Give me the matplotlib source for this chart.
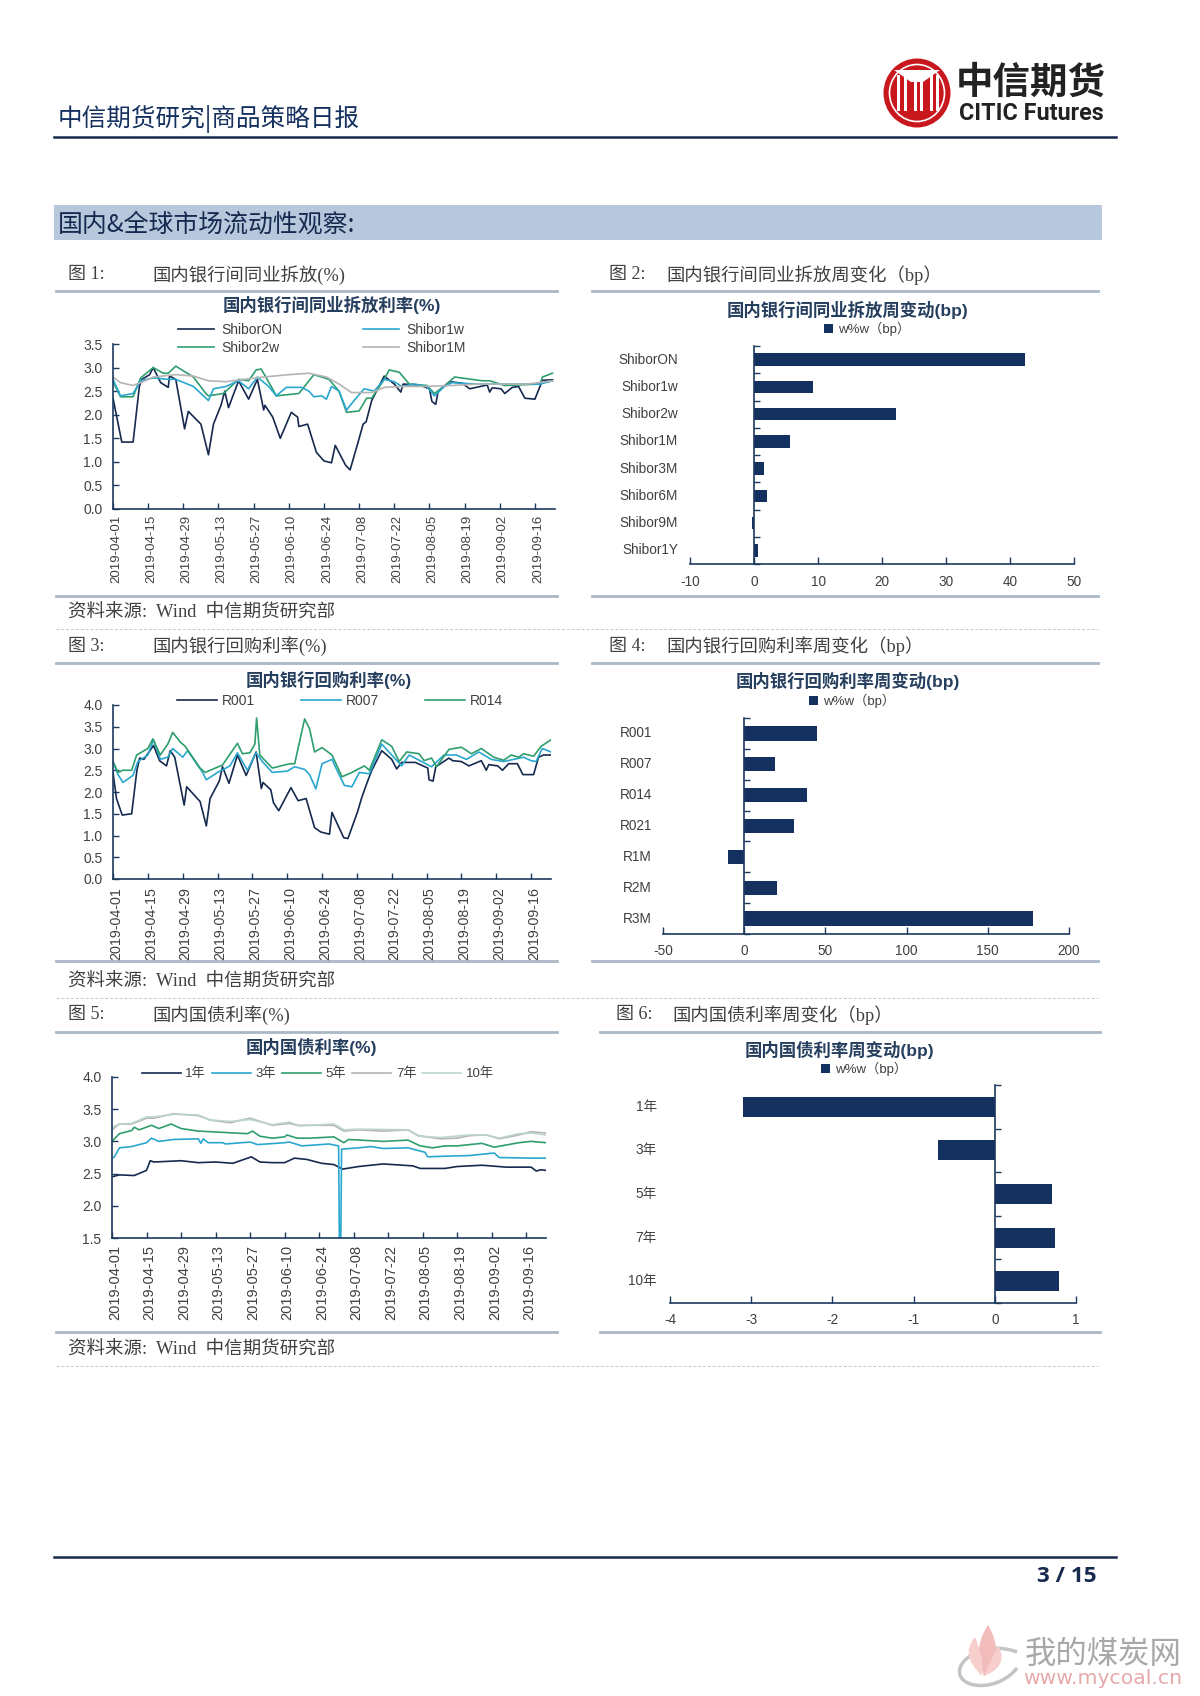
import numpy as np
import matplotlib
matplotlib.use('Agg')
import matplotlib.pyplot as plt
from matplotlib.patches import Ellipse, Rectangle, Polygon, PathPatch
from matplotlib.path import Path
from matplotlib.transforms import blended_transform_factory, ScaledTranslation

plt.rcParams['font.family'] = ['Liberation Sans', 'Noto Sans CJK SC', 'DejaVu Sans']

W, H = 1200, 1696

date_labels = ['2019-04-01', '2019-04-15', '2019-04-29', '2019-05-13', '2019-05-27', '2019-06-10', '2019-06-24',
               '2019-07-08', '2019-07-22', '2019-08-05', '2019-08-19', '2019-09-02', '2019-09-16']

# 图1 shibor, x = days after 2019-04-01
on_d = [0, 3.5, 8, 10.5, 11.5, 14.6, 16, 19, 22, 22.5, 25, 28.5, 30, 35, 38, 40, 43, 44.5, 46, 50, 54, 57.5, 60, 60.5, 63.6, 66.6, 71, 73.5, 74, 77.5, 81, 84, 87, 88.5, 92.6, 94.4, 97.5, 99.6, 100.8, 103, 108, 112, 114.6, 115.5, 122, 126, 127, 128.5, 129.5, 134, 139, 142, 149, 150, 151, 154.5, 156, 159, 161.5, 164, 168, 171, 175]
on_v = [2.35, 1.42, 1.42, 2.6, 2.75, 2.85, 3.0, 2.68, 2.58, 2.82, 2.75, 1.7, 2.07, 1.8, 1.15, 1.8, 2.2, 2.5, 2.15, 2.72, 2.33, 2.75, 2.1, 2.2, 1.95, 1.5, 2.05, 1.95, 1.75, 1.8, 1.2, 1.02, 0.98, 1.35, 0.93, 0.83, 1.4, 1.8, 1.85, 2.3, 2.82, 2.65, 2.48, 2.65, 2.63, 2.55, 2.28, 2.22, 2.5, 2.7, 2.67, 2.55, 2.63, 2.48, 2.57, 2.55, 2.45, 2.58, 2.6, 2.35, 2.33, 2.73, 2.74]
w1_d = [0, 3, 8, 11, 16, 22, 25, 32, 38, 40, 45, 50, 54, 57.5, 62, 65, 69, 75, 78, 80, 83, 85, 87, 90, 93, 96, 100, 104, 108, 112, 115, 120, 125, 128, 132, 135, 145, 170, 175]
w1_v = [2.75, 2.4, 2.45, 2.72, 2.78, 2.75, 2.75, 2.6, 2.3, 2.55, 2.6, 2.72, 2.55, 2.8, 2.6, 2.4, 2.58, 2.58, 2.5, 2.38, 2.4, 2.33, 2.6, 2.5, 2.1, 2.3, 2.55, 2.5, 2.75, 2.7, 2.6, 2.65, 2.6, 2.4, 2.6, 2.68, 2.65, 2.65, 2.72]
w2_d = [0, 3, 8, 11, 16, 20, 22, 25, 32, 37, 38, 44, 50, 54, 57, 59, 63, 65, 74, 80, 86, 90, 93, 98, 101, 103, 108, 110, 114, 118, 125, 128, 133, 136, 147, 150, 156, 170, 171, 175]
w2_v = [2.7, 2.38, 2.38, 2.78, 3.0, 2.88, 2.88, 3.03, 2.8, 2.45, 2.4, 2.45, 2.75, 2.72, 2.95, 2.97, 2.6, 2.4, 2.45, 2.85, 2.75, 2.5, 2.05, 2.08, 2.35, 2.35, 2.75, 2.95, 2.9, 2.65, 2.62, 2.45, 2.65, 2.8, 2.72, 2.72, 2.62, 2.65, 2.8, 2.88]
m1_d = [0, 3, 8, 12, 16, 25, 32, 38, 45, 52, 60, 70, 78, 85, 90, 95, 103, 108, 115, 125, 135, 145, 165, 175]
m1_v = [2.8, 2.68, 2.62, 2.7, 2.8, 2.85, 2.82, 2.72, 2.7, 2.75, 2.8, 2.85, 2.88, 2.8, 2.65, 2.47, 2.47, 2.58, 2.6, 2.6, 2.62, 2.65, 2.65, 2.72]

# 图3 repo
r001_d = [0, 1.4, 3.7, 7.5, 9.6, 10.7, 12.4, 16.3, 18.7, 21.5, 23, 24.8, 28.6, 29.6, 35, 37.5, 39, 42.7, 44, 46.6, 50, 53.5, 57.5, 59.6, 60.3, 63.4, 64.5, 66.6, 71.5, 74.4, 77.6, 81, 83.5, 87, 88, 92.7, 94.4, 98.3, 100, 102, 104, 108, 112, 114, 116, 121.5, 126.5, 127, 128.6, 129.7, 135, 136.5, 140, 143, 148, 150, 151, 154.6, 156.5, 159, 162.5, 164.7, 169, 171, 173, 175.8]
r001_v = [2.45, 1.85, 1.47, 1.5, 2.5, 2.78, 2.75, 3.07, 2.72, 2.6, 2.95, 2.8, 1.7, 2.12, 1.78, 1.22, 1.85, 2.25, 2.58, 2.2, 2.85, 2.38, 2.92, 2.08, 2.22, 2.05, 1.75, 1.57, 2.1, 1.8, 1.85, 1.18, 1.08, 1.03, 1.53, 0.95, 0.93, 1.55, 1.88, 2.2, 2.5, 2.95, 2.75, 2.53, 2.68, 2.68, 2.55, 2.28, 2.25, 2.58, 2.78, 2.72, 2.7, 2.6, 2.72, 2.5, 2.63, 2.6, 2.5, 2.65, 2.65, 2.4, 2.4, 2.8, 2.85, 2.85]
r007_d = [0, 2, 4, 8, 10, 14, 16.3, 19, 22, 24, 28, 30, 36, 37.5, 42, 47, 50, 54, 57.5, 60, 64, 70, 73, 77, 79, 81.5, 84, 88, 90, 93, 96, 99, 103, 108, 112, 116, 119, 124, 128, 133, 138, 142, 147, 152, 157, 165, 168, 170, 172.5, 176]
r007_v = [2.7, 2.4, 2.22, 2.38, 2.7, 2.85, 3.2, 2.75, 2.8, 3.0, 2.8, 2.95, 2.45, 2.28, 2.45, 2.6, 2.9, 2.5, 2.9, 2.7, 2.45, 2.48, 2.58, 2.52, 2.4, 2.07, 2.65, 2.75, 2.5, 2.15, 2.12, 2.45, 2.42, 3.1, 2.85, 2.6, 2.85, 2.7, 2.58, 2.85, 2.85, 2.75, 2.92, 2.75, 2.7, 2.8, 2.72, 2.7, 3.0, 2.92]
r014_d = [0, 2, 4, 7.5, 9.5, 14, 16, 19, 22, 24, 27, 29, 35, 37, 44, 50, 52, 55, 57, 57.7, 59, 64, 71, 73, 77, 79, 81, 84, 88, 92, 96, 101, 103, 108, 112, 115, 118, 123, 125, 128, 130, 135, 140, 144, 148, 153, 157, 160, 163, 165, 169, 172, 176]
r014_v = [2.7, 2.45, 2.5, 2.5, 2.85, 3.0, 3.22, 2.85, 3.1, 3.37, 3.15, 3.05, 2.55, 2.45, 2.62, 3.12, 2.88, 2.9, 3.1, 3.7, 2.85, 2.55, 2.65, 2.65, 3.68, 3.45, 2.92, 3.02, 2.85, 2.35, 2.45, 2.6, 2.5, 3.2, 3.05, 2.7, 2.92, 2.88, 2.72, 2.78, 2.58, 2.98, 3.03, 2.88, 3.0, 2.8, 2.73, 2.85, 2.8, 2.88, 2.82, 3.05, 3.2]

# 图5 treasury
y1_d = [0, 3, 9, 14, 15.5, 17, 28, 35, 42, 49, 56.5, 60, 65, 70, 74, 79, 85, 90, 93.5, 100, 110, 122, 125, 135, 140, 150, 160, 170, 172, 174, 176]
y1_v = [2.45, 2.48, 2.47, 2.55, 2.7, 2.68, 2.7, 2.67, 2.68, 2.66, 2.76, 2.68, 2.67, 2.67, 2.74, 2.72, 2.66, 2.64, 2.57, 2.61, 2.65, 2.62, 2.58, 2.58, 2.61, 2.63, 2.6, 2.6, 2.54, 2.56, 2.55]
y3_d = [0, 1, 3, 8, 14, 16, 19, 25, 35, 36, 37, 39, 45, 46, 56, 59, 70, 72, 77, 88, 91.9, 92.2, 92.8, 93.1, 100, 105, 110, 120, 125, 127, 128, 135, 145, 155, 157, 170, 176]
y3_v = [2.74, 2.76, 2.9, 2.92, 2.98, 3.05, 3.0, 3.03, 3.04, 2.97, 3.04, 2.98, 2.98, 2.96, 2.99, 2.95, 2.98, 2.99, 2.93, 2.96, 2.93, 1.5, 1.5, 2.88, 2.9, 2.92, 2.89, 2.9, 2.85, 2.83, 2.76, 2.77, 2.78, 2.82, 2.75, 2.74, 2.74]
y5_d = [0, 3, 8, 9, 11, 16, 19, 24, 28, 35, 45, 55, 57, 60, 65, 70, 71, 75, 80, 90, 94, 96, 110, 120, 125, 130, 135, 140, 150, 155, 165, 170, 176]
y5_v = [3.0, 3.12, 3.17, 3.22, 3.18, 3.25, 3.2, 3.27, 3.2, 3.16, 3.14, 3.12, 3.16, 3.08, 3.05, 3.07, 3.1, 3.05, 3.05, 3.07, 2.98, 3.03, 3.0, 3.02, 2.93, 2.9, 2.93, 2.93, 2.97, 2.91, 2.98, 3.0, 2.98]
y7_d = [0, 3, 8, 14, 17, 25, 35, 40, 48, 56, 65, 72, 75, 85, 90, 94, 100, 110, 120, 124, 133, 140, 145, 152, 157, 165, 170, 176]
y7_v = [3.18, 3.27, 3.27, 3.36, 3.36, 3.43, 3.4, 3.33, 3.29, 3.36, 3.25, 3.28, 3.25, 3.25, 3.25, 3.16, 3.18, 3.16, 3.18, 3.09, 3.04, 3.05, 3.09, 3.1, 3.04, 3.1, 3.15, 3.13]
y10_d = [0, 3, 8, 14, 17, 25, 35, 40, 48, 56, 65, 72, 76, 90, 94, 100, 120, 125, 133, 145, 152, 157, 165, 170, 176]
y10_v = [3.22, 3.27, 3.28, 3.38, 3.38, 3.42, 3.41, 3.33, 3.31, 3.34, 3.26, 3.3, 3.24, 3.27, 3.18, 3.19, 3.18, 3.08, 3.06, 3.1, 3.1, 3.05, 3.12, 3.13, 3.1]

# bar charts
shibor_names = ['ShiborON', 'Shibor1w', 'Shibor2w', 'Shibor1M', 'Shibor3M', 'Shibor6M', 'Shibor9M', 'Shibor1Y']
shibor_chg = [42.3, 9.2, 22.2, 5.7, 1.6, 2.1, -0.3, 0.7]
repo_names = ['R001', 'R007', 'R014', 'R021', 'R1M', 'R2M', 'R3M']
repo_chg = [45, 19, 38.5, 30.5, -10, 20, 178]
bond_names = ['1年', '3年', '5年', '7年', '10年']
bond_chg = [-3.1, -0.7, 0.71, 0.74, 0.79]

NAVY = '#14305f'
DARK = '#16294f'
CYAN = '#2aa7cf'
GREEN = '#2f9e6e'
GRAY = '#b4b4b4'
PALE = '#bcd6cc'
AXC = '#1d3a5c'
TXT = '#404040'
RULE = '#a9b8c4'
SERIF = ['Liberation Serif', 'Noto Sans CJK SC']

fig = plt.figure(figsize=(W / 100, H / 100), dpi=100, facecolor='white')

# page layer in pixels
pg = fig.add_axes([0, 0, 1, 1])
pg.set_xlim(0, W)
pg.set_ylim(H, 0)
pg.axis('off')


def make_ax(x0, x1, ytop, ybot):
    ax = fig.add_axes([x0 / W, 1 - ybot / H, (x1 - x0) / W, (ybot - ytop) / H])
    ax.patch.set_alpha(0)
    for s in ['top', 'right']:
        ax.spines[s].set_visible(False)
    for s in ['left', 'bottom']:
        ax.spines[s].set_color(AXC)
        ax.spines[s].set_linewidth(1.2)
    return ax


def line_chart(rect, series, ylim, yticks, leg, date_fs, date_pad):
    ax = make_ax(*rect)
    for d, v, c, name in series:
        ax.plot(d, v, color=c, lw=1.2, label=name, solid_joinstyle='round')
    ax.set_xlim(0, 176)
    ax.set_ylim(*ylim)
    ax.set_xticks(np.arange(len(date_labels)) * 14)
    ax.set_xticklabels(date_labels, rotation=90, fontsize=date_fs, color=TXT)
    ax.set_yticks(yticks)
    ax.set_yticklabels(['%.1f' % t for t in yticks], fontsize=10, color=TXT)
    ax.tick_params(axis='both', direction='in', length=4, width=1, color=AXC)
    ax.tick_params(axis='x', pad=date_pad)
    ax.tick_params(axis='y', pad=7.5)
    # date labels sit a little right of their ticks, has to come after tick_params
    nudge = ScaledTranslation(3 / 100, 0, fig.dpi_scale_trans)
    for lab in ax.get_xticklabels():
        lab.set_transform(lab.get_transform() + nudge)
    ax.legend(loc='center', bbox_to_anchor=(leg['x'] / W, 1 - leg['y'] / H), bbox_transform=fig.transFigure,
              ncol=leg['ncol'], frameon=False, fontsize=leg['fs'], labelcolor=TXT, handlelength=leg['hl'],
              handletextpad=leg['pad'], columnspacing=leg['gap'], labelspacing=0.3, borderpad=0)
    return ax


def bar_chart(rect, names, vals, xlim, xticks, lab_x, leg_pos, pad, bw=0.46):
    ax = make_ax(*rect)
    pos = np.arange(len(names)) + 0.5
    ax.barh(pos, vals, height=bw, color=NAVY, label='w%w（bp）')
    ax.set_xlim(*xlim)
    ax.set_ylim(len(names), 0)
    ax.spines['left'].set_position(('data', 0))
    ax.set_xticks(xticks)
    ax.set_xticklabels([str(t) for t in xticks], fontsize=9.8, color=TXT)
    ax.set_yticks(np.arange(len(names) + 1))
    ax.set_yticklabels([])
    ax.tick_params(axis='x', direction='in', length=5, width=1, color=AXC, pad=pad)
    ax.tick_params(axis='y', direction='in', length=4, width=1, color=AXC)
    tr = blended_transform_factory(fig.transFigure, ax.transData)
    for p, n in zip(pos, names):
        ax.text(lab_x / W, p, n, transform=tr, ha='right', va='center', fontsize=9.8, color=TXT)
    ax.legend(loc='center', bbox_to_anchor=(leg_pos[0] / W, 1 - leg_pos[1] / H), bbox_transform=fig.transFigure,
              frameon=False, fontsize=9.5, labelcolor=TXT, handlelength=0.7, handleheight=0.7, handletextpad=0.4,
              borderpad=0)
    return ax


# header
pg.text(58, 119, '中信期货研究|商品策略日报', fontsize=17.7, fontweight='medium', color=NAVY, va='center',
        family='Noto Sans CJK SC')
pg.plot([54, 1116], [137, 137], color=DARK, lw=1.8)
pg.add_patch(Rectangle((54, 205), 1048, 35, fc='#b7c8dd', ec='none'))
pg.text(58, 225, '国内&全球市场流动性观察:', fontsize=17.9, fontweight='medium', color=DARK, va='center',
        family='Noto Sans CJK SC')

# logo
cx, cy = 917, 93
pg.add_patch(Ellipse((cx, cy), 67, 69, fc='#c9171e', ec='none'))
pg.add_patch(Ellipse((cx, cy), 55, 57, fc='none', ec='white', lw=1.2))
for off in [-20, -13, -3, 3, 13, 19]:
    pg.add_patch(Rectangle((cx + off, cy - 18), 2.6, 36, fc='white', ec='none'))
pg.add_patch(Polygon([[cx - 23, cy - 23], [cx + 23, cy - 23], [cx + 6, cy - 11], [cx - 6, cy - 11]], fc='white', ec='none'))
pg.text(1031, 82, '中信期货', fontsize=27, fontweight='bold', color='#222222', ha='center', va='center',
        family='Noto Sans CJK SC')
pg.text(1031, 113, 'CITIC Futures', fontsize=16.8, fontweight='bold', color='#222222', ha='center', va='center',
        family='Roboto')

# captions and rules
captions = [(68, 152, 275, '图 1:', '国内银行间同业拆放(%)'), (609, 666, 275, '图 2:', '国内银行间同业拆放周变化（bp）'),
            (68, 152, 646, '图 3:', '国内银行回购利率(%)'), (609, 666, 646, '图 4:', '国内银行回购利率周变化（bp）'),
            (68, 152, 1015, '图 5:', '国内国债利率(%)'), (616, 672, 1015, '图 6:', '国内国债利率周变化（bp）')]
for xa, xb, y, a, b in captions:
    pg.text(xa, y, a, fontsize=13, color=TXT, va='center', family=SERIF)
    pg.text(xb, y, b, fontsize=13.2, color=TXT, va='center', family=SERIF)

rules = [(56, 557, 291), (592, 1098, 291), (56, 557, 596), (592, 1098, 596),
         (56, 557, 663), (592, 1098, 663), (56, 557, 961), (592, 1098, 961),
         (56, 557, 1032), (600, 1100, 1032), (56, 557, 1332), (600, 1100, 1332)]
for x0, x1, y in rules:
    pg.plot([x0, x1], [y, y], color=RULE, lw=2)
for y in [629, 998, 1366]:
    pg.plot([56, 1098], [y, y], color='#c8c8c8', lw=0.7, ls=(0, (3, 2)))
for y in [613, 982, 1350]:
    pg.text(68, y, '资料来源:  Wind  中信期货研究部', fontsize=13.3, color=TXT, va='center', family=SERIF)

# chart titles
titles = [(332, 305, '国内银行间同业拆放利率(%)'), (847, 310, '国内银行间同业拆放周变动(bp)'),
          (329, 680, '国内银行回购利率(%)'), (848, 681, '国内银行回购利率周变动(bp)'),
          (311, 1047, '国内国债利率(%)'), (839, 1050, '国内国债利率周变动(bp)')]
for x, y, t in titles:
    pg.text(x, y, t, fontsize=12.5, fontweight='bold', color='#263f5e', ha='center', va='center',
            family=['Liberation Sans', 'Noto Sans CJK SC'])

# line charts
line_chart((113, 555, 344, 509),
           [(on_d, on_v, DARK, 'ShiborON'), (w2_d, w2_v, GREEN, 'Shibor2w'),
            (w1_d, w1_v, CYAN, 'Shibor1w'), (m1_d, m1_v, GRAY, 'Shibor1M')],
           (0, 3.5), np.arange(0, 3.6, 0.5), dict(x=322, y=339, ncol=2, fs=10, hl=2.55, pad=0.55, gap=5.8), 9.5, 4)
line_chart((113, 551, 705, 879),
           [(r001_d, r001_v, DARK, 'R001'), (r007_d, r007_v, CYAN, 'R007'), (r014_d, r014_v, GREEN, 'R014')],
           (0, 4), np.arange(0, 4.1, 0.5), dict(x=340, y=701, ncol=3, fs=10, hl=2.9, pad=0.35, gap=3.3), 10.3, 6)
line_chart((112, 546, 1077, 1238),
           [(y1_d, y1_v, DARK, '1年'), (y3_d, y3_v, CYAN, '3年'), (y5_d, y5_v, GREEN, '5年'),
            (y7_d, y7_v, GRAY, '7年'), (y10_d, y10_v, PALE, '10年')],
           (1.5, 4), np.arange(1.5, 4.1, 0.5), dict(x=318, y=1074, ncol=5, fs=9.5, hl=2.95, pad=0.35, gap=0.45), 10.5, 5)

# bar charts
bar_chart((690, 1074, 346, 564), shibor_names, shibor_chg, (-10, 50), list(range(-10, 51, 10)), 678, (867, 329), 8)
bar_chart((663, 1069, 718, 934), repo_names, repo_chg, (-50, 200), list(range(-50, 201, 50)), 652, (852, 701), 7)
bar_chart((670, 1076, 1085, 1303), bond_names, bond_chg, (-4, 1), list(range(-4, 2)), 657, (864, 1069), 7)

# footer
pg.plot([54, 1116], [1557, 1557], color=DARK, lw=1.8)
pg.text(1067, 1576, '3 / 15', fontsize=16.2, fontweight='bold', color=DARK, ha='center', va='center', family='Open Sans')

# watermark
pg.text(1103, 1654, '我的煤炭网', fontsize=22.6, color='#a8a8a8', ha='center', va='center', family='Noto Sans CJK SC')
pg.text(1103, 1678, 'www.mycoal.cn', fontsize=14.7, color='#e6a9a9', ha='center', va='center', family='DejaVu Sans')
curve4 = [Path.MOVETO, Path.CURVE4, Path.CURVE4, Path.CURVE4, Path.CURVE4, Path.CURVE4, Path.CURVE4]
swoosh = Path([(1017, 1652), (985, 1640), (955, 1660), (960, 1675), (965, 1690), (1000, 1690), (1017, 1668)], curve4)
pg.add_patch(PathPatch(swoosh, fc='none', ec='#c4c4c4', lw=2.5))
flames = [([(988, 1625), (975, 1645), (978, 1660), (984, 1676), (998, 1662), (1000, 1645), (988, 1625)], '#f2bcba'),
          ([(975, 1637), (964, 1650), (968, 1662), (982, 1676), (984, 1660), (980, 1650), (975, 1637)], '#f6cfcd'),
          ([(998, 1645), (994, 1655), (990, 1662), (984, 1676), (1000, 1670), (1006, 1660), (998, 1645)], '#f6cfcd')]
for pts, col in flames:
    pg.add_patch(PathPatch(Path(pts, curve4), fc=col, ec='none'))

fig.savefig('out.png', dpi=100)
